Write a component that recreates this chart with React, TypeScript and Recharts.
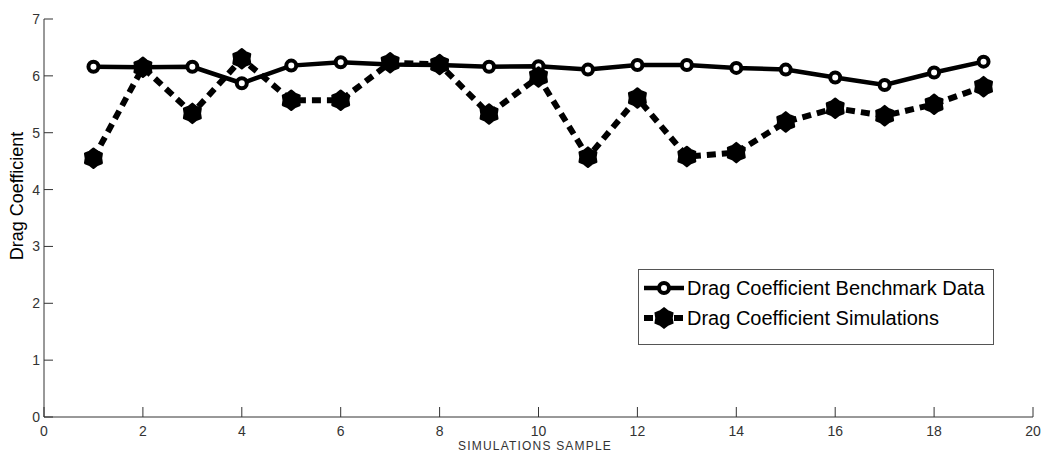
import { LineChart, Line, XAxis, YAxis, Legend } from 'recharts';

const samples = [1, 2, 3, 4, 5, 6, 7, 8, 9, 10, 11, 12, 13, 14, 15, 16, 17, 18, 19];
const benchmark = [6.16, 6.15, 6.16, 5.87, 6.18, 6.24, 6.2, 6.19, 6.16, 6.17, 6.11, 6.19, 6.19, 6.14, 6.11, 5.97, 5.84, 6.06, 6.25];
const simulations = [4.55, 6.15, 5.34, 6.3, 5.57, 5.57, 6.23, 6.2, 5.33, 5.98, 4.57, 5.61, 4.58, 4.65, 5.19, 5.43, 5.3, 5.5, 5.81];
const xTicks = [0, 2, 4, 6, 8, 10, 12, 14, 16, 18, 20];
const yTicks = [0, 1, 2, 3, 4, 5, 6, 7];

const data = samples.map((s, i) => ({ sample: s, bench: benchmark[i], sim: simulations[i] }));

const tickFont = { fontFamily: '"Liberation Sans Narrow", "Liberation Sans", sans-serif', fontSize: 14, fill: '#333' };
const axisColor = '#333';

// ticks point inward, MATLAB style
const BottomTick = ({ x, y, payload }: any) => (
  <g>
    <line x1={x} y1={y} x2={x} y2={y - 10} stroke={axisColor} />
    <text x={x} y={y + 19} textAnchor="middle" {...tickFont}>{payload.value}</text>
  </g>
);
const TopTick = ({ x, y }: any) => <line x1={x} y1={y} x2={x} y2={y + 12} stroke={axisColor} />;
const LeftTick = ({ x, y, payload }: any) => (
  <g>
    <line x1={x} y1={y} x2={x + 9} y2={y} stroke={axisColor} />
    <text x={x - 4} y={y + 5} textAnchor="end" {...tickFont}>{payload.value}</text>
  </g>
);
const RightTick = ({ x, y }: any) => <line x1={x} y1={y} x2={x - 8} y2={y} stroke={axisColor} />;

const hexPath = (cx: number, cy: number, R: number, r: number) => {
  const pts: string[] = [];
  for (let i = 0; i < 12; i++) {
    const a = -Math.PI / 2 + (i * Math.PI) / 6;
    const rad = i % 2 === 0 ? R : r;
    pts.push(`${cx + rad * Math.cos(a)},${cy + rad * Math.sin(a)}`);
  }
  return `M${pts.join('L')}Z`;
};

const BenchDot = (props: any) => {
  const { cx, cy, index } = props;
  return <circle key={`b${index}`} cx={cx} cy={cy} r={5} fill="#fff" stroke="#000" strokeWidth={4} />;
};
const SimDot = (props: any) => {
  const { cx, cy, index } = props;
  return <path key={`s${index}`} d={hexPath(cx, cy, 9.5, 7.5)} fill="#000" stroke="#000" strokeWidth={2.5} strokeLinejoin="round" />;
};

const legendText = { fontFamily: '"Liberation Sans", Arial, sans-serif', fontSize: 20, color: '#000', lineHeight: '30px' };

const LegendBox = () => (
  <div style={{ border: '1px solid #555', background: '#fff', width: 354, height: 71, boxSizing: 'content-box', paddingTop: 3 }}>
    <div style={{ display: 'flex', alignItems: 'center', height: 30 }}>
      <svg width={48} height={30} style={{ flex: 'none' }}>
        <line x1={5} y1={15} x2={45} y2={15} stroke="#000" strokeWidth={4.5} />
        <circle cx={25} cy={15} r={5} fill="#fff" stroke="#000" strokeWidth={4} />
      </svg>
      <span style={legendText}>Drag Coefficient Benchmark Data</span>
    </div>
    <div style={{ display: 'flex', alignItems: 'center', height: 30 }}>
      <svg width={48} height={30} style={{ flex: 'none' }}>
        <line x1={5} y1={15} x2={45} y2={15} stroke="#000" strokeWidth={6} strokeDasharray="9 6" />
        <path d={hexPath(25, 15, 9.5, 7.5)} fill="#000" stroke="#000" strokeWidth={2.5} />
      </svg>
      <span style={legendText}>Drag Coefficient Simulations</span>
    </div>
  </div>
);

export default function App() {
  return (
    <div style={{ position: 'absolute', left: 0, top: 0, background: '#fff' }}>
      <LineChart width={1042} height={455} data={data} margin={{ top: 19, right: 9, left: 0, bottom: 0 }}>
        <XAxis
          dataKey="sample"
          type="number"
          domain={[0, 20]}
          ticks={xTicks}
          height={38}
          tickSize={0}
          tickMargin={0}
          tickLine={false}
          axisLine={{ stroke: axisColor }}
          tick={<BottomTick />}
          label={{
            content: () => (
              <text x={535} y={450} textAnchor="middle" fontFamily='"Liberation Sans Narrow", sans-serif' fontSize={12} letterSpacing={1.2} fill="#333">
                SIMULATIONS SAMPLE
              </text>
            ),
          }}
        />
        <XAxis
          xAxisId="top"
          orientation="top"
          dataKey="sample"
          type="number"
          domain={[0, 20]}
          ticks={xTicks}
          height={0}
          tickSize={0}
          tickMargin={0}
          tickLine={false}
          axisLine={{ stroke: axisColor }}
          tick={<TopTick />}
        />
        <YAxis
          type="number"
          domain={[0, 7]}
          ticks={yTicks}
          width={44}
          tickSize={0}
          tickMargin={0}
          tickLine={false}
          axisLine={{ stroke: axisColor }}
          tick={<LeftTick />}
          label={{
            content: () => (
              <text x={23} y={196} transform="rotate(-90 23 196)" textAnchor="middle" fontFamily='"Liberation Sans", Arial, sans-serif' fontSize={18} fill="#000">
                Drag Coefficient
              </text>
            ),
          }}
        />
        <YAxis
          yAxisId="right"
          orientation="right"
          type="number"
          domain={[0, 7]}
          ticks={yTicks}
          width={0}
          tickSize={0}
          tickMargin={0}
          tickLine={false}
          axisLine={{ stroke: axisColor }}
          tick={<RightTick />}
        />
        <Line
          dataKey="bench"
          name="Drag Coefficient Benchmark Data"
          stroke="#000"
          strokeWidth={4.5}
          dot={BenchDot}
          activeDot={false}
          isAnimationActive={false}
        />
        <Line
          dataKey="sim"
          name="Drag Coefficient Simulations"
          stroke="#000"
          strokeWidth={6}
          strokeDasharray="9 6"
          dot={SimDot}
          activeDot={false}
          isAnimationActive={false}
        />
        <Legend
          layout="horizontal"
          verticalAlign="middle"
          align="center"
          wrapperStyle={{ left: 638, top: 269, width: 356, height: 75 }}
          content={() => <LegendBox />}
        />
      </LineChart>
    </div>
  );
}
